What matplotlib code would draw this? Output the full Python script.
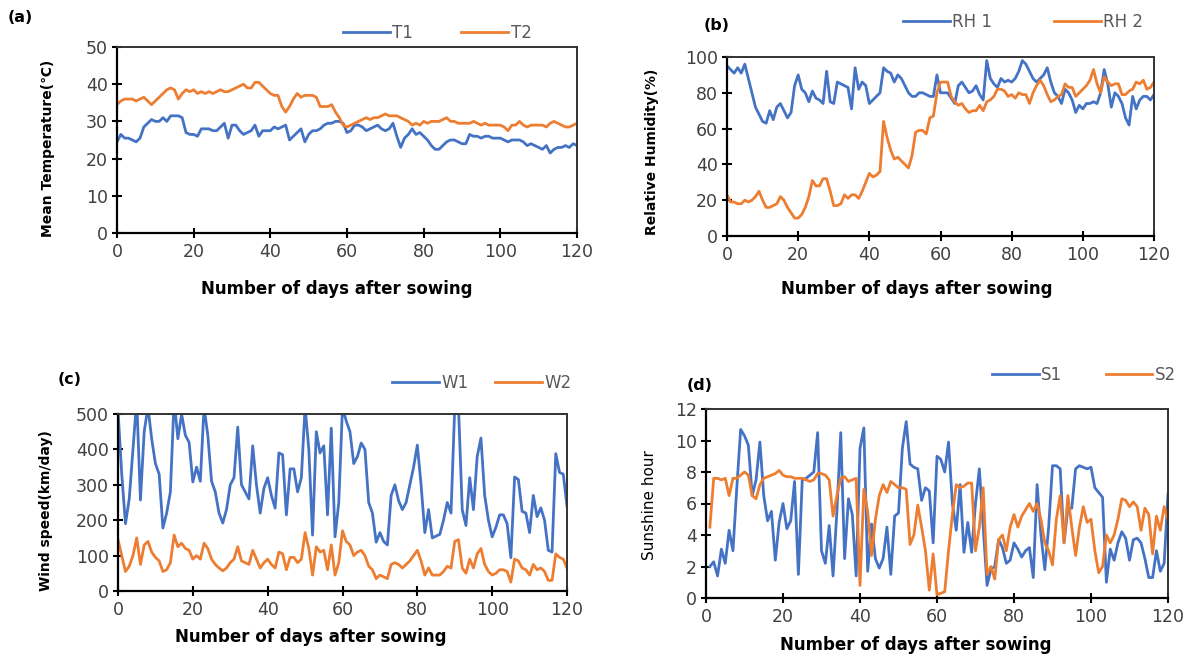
import numpy as np
import matplotlib
matplotlib.use('Agg')
from matplotlib import pyplot as plt

# (a) mean temperature, days 0..120
t1 = [24.5, 26.5, 25.5, 25.5, 25, 24.5, 25.5, 28.5, 29.5, 30.5,
      30, 30, 31, 30, 31.5, 31.5, 31.5, 31, 27, 26.5,
      26.5, 26, 28, 28, 28, 27.5, 27.5, 28.5, 29.5, 25.5,
      29, 29, 27.5, 26.5, 27, 27.5, 29, 26, 27.5, 27.5,
      27.5, 28.5, 28, 28.5, 29, 25, 26, 27, 28, 24.5,
      26.5, 27.5, 27.5, 28, 29, 29.5, 29.5, 30, 30, 29.5,
      27, 27.5, 29, 29, 28.5, 27.5, 28, 28.5, 29, 28,
      27.5, 28, 29.5, 26, 23, 25.5, 26.5, 28, 26.5, 27,
      26, 25, 23.5, 22.5, 22.5, 23.5, 24.5, 25, 25, 24.5,
      24, 24, 26.5, 26, 26, 25.5, 26, 26, 25.5, 25.5,
      25.5, 25, 24.5, 25, 25, 25, 24.5, 23.5, 24, 23.5,
      23, 22.5, 23.5, 21.5, 22.5, 23, 23, 23.5, 23, 24,
      23.5]
t2 = [34.5, 35.5, 36, 36, 36, 35.5, 36, 36.5, 35.5, 34.5,
      35.5, 36.5, 37.5, 38.5, 39, 38.5, 36, 37.5, 38.5, 38,
      38.5, 37.5, 38, 37.5, 38, 37.5, 38, 38.5, 38, 38,
      38.5, 39, 39.5, 40, 39, 39, 40.5, 40.5, 39.5, 38.5,
      37.5, 37, 37, 34, 32.5, 34, 36, 37.5, 36.5, 37,
      37, 37, 36.5, 34, 34, 34, 34.5, 32.5, 31, 29,
      28.5, 29, 29.5, 30, 30.5, 31, 30.5, 31, 31, 31.5,
      32, 31.5, 31.5, 31.5, 31, 30.5, 30, 29, 29.5, 29,
      30, 29.5, 30, 30, 30, 30.5, 31, 30, 30, 29.5,
      29.5, 29.5, 29.5, 30, 29.5, 29, 29.5, 29, 29, 29,
      29, 28.5, 27.5, 29, 29, 30, 29, 28.5, 29, 29,
      29, 29, 28.5, 29.5, 30, 29.5, 29, 28.5, 28.5, 29,
      29.5]

# (b) relative humidity, days 0..120
rh1 = [95, 93, 91, 94, 91, 96, 88, 80, 72, 68,
       64, 63, 70, 65, 72, 74, 70, 66, 69, 84,
       90, 82, 80, 75, 81, 77, 76, 74, 92, 75,
       74, 86, 85, 84, 83, 71, 94, 82, 86, 84,
       74, 76, 78, 80, 94, 92, 91, 86, 90, 88,
       84, 80, 78, 78, 80, 80, 79, 78, 78, 90,
       80, 80, 80, 77, 74, 84, 86, 83, 80, 81,
       84, 79, 76, 98, 88, 85, 83, 88, 86, 87,
       86, 88, 92, 98, 96, 92, 88, 86, 88, 90,
       94, 86, 80, 78, 74, 82, 80, 76, 69, 73,
       71, 74, 74, 75, 74, 80, 93, 85, 72, 80,
       78, 74, 66, 62, 78, 71, 76, 78, 78, 76,
       79]
rh2 = [23, 19, 19, 18, 18, 20, 19, 20, 22, 25,
       20, 16, 16, 17, 18, 22, 20, 16, 13, 10,
       10, 12, 16, 22, 31, 28, 28, 32, 32, 25,
       17, 17, 18, 23, 21, 23, 23, 21, 25, 30,
       35, 33, 34, 36, 64, 55, 48, 43, 44, 42,
       40, 38, 45, 58, 59, 59, 57, 66, 67, 80,
       86, 86, 86, 78, 75, 73, 74, 71, 69, 70,
       70, 73, 70, 75, 76, 78, 82, 82, 81, 78,
       79, 77, 80, 79, 79, 74, 80, 84, 87, 84,
       79, 75, 76, 78, 79, 85, 83, 83, 78, 80,
       82, 84, 87, 93, 85, 80, 89, 86, 84, 85,
       85, 79, 79, 81, 82, 86, 85, 87, 82, 83,
       86]

# (c) wind speed, days 0..120
w1 = [510, 330, 190, 260, 400, 540, 257, 450, 520, 430,
      360, 330, 178, 220, 280, 540, 430, 500, 440, 420,
      308, 350, 310, 520, 440, 310, 280, 220, 192, 230,
      300, 320, 463, 300, 280, 260, 410, 300, 220, 290,
      320, 270, 234, 390, 385, 215, 345, 345, 280, 320,
      520, 400, 158, 450, 390, 410, 215, 460, 153, 250,
      520, 480, 450, 360, 380, 418, 400, 250, 220, 138,
      165, 140, 130, 270, 300, 255, 230, 250, 300, 350,
      412, 300, 165, 230, 150, 155, 160, 200, 250, 220,
      520, 520, 230, 185, 320, 230, 380, 432, 270, 200,
      153, 180, 215, 215, 190, 94, 322, 315, 225, 220,
      165, 270, 210, 235, 200, 115, 110, 388, 335, 330,
      240]
w2 = [145, 100, 55, 70, 100, 150, 75, 130, 140, 110,
      95, 85, 55, 60, 80, 158, 125, 135, 120, 115,
      90, 100, 90, 135, 120, 90, 75, 65, 57, 65,
      80, 90, 125, 85, 80, 75, 115, 90, 65, 80,
      90, 75, 65, 110, 105, 60, 95, 95, 80, 90,
      165, 120, 45, 125, 110, 115, 60, 130, 45, 80,
      170, 140, 130, 100, 110, 115, 100, 70, 60, 35,
      45, 40, 35, 75, 80, 75, 65, 75, 85, 100,
      115, 85, 45, 65, 45, 45, 45, 55, 70, 65,
      140, 145, 65, 50, 90, 65, 105, 120, 75, 55,
      45, 50, 60, 60, 55, 25, 90, 85, 65, 60,
      45, 75, 60, 65, 55, 30, 30, 105, 95, 90,
      65]

# (d) sunshine hours, days 1..120
s1 = [2.0, 2.3, 1.4, 3.1, 2.2, 4.3, 3.0, 7.0, 10.7, 10.3,
      9.7, 6.5, 7.5, 9.9, 6.5, 4.9, 5.5, 2.4, 4.8, 6.0,
      4.4, 4.9, 7.4, 1.5, 7.5, 7.6, 7.8, 8.0, 10.5, 3.0,
      2.2, 4.6, 1.4, 5.5, 10.5, 2.5, 6.3, 5.3, 1.4, 9.5,
      10.8, 1.7, 4.7, 2.5, 1.9, 2.5, 4.5, 1.5, 5.2, 5.4,
      9.5, 11.2, 8.5, 8.3, 8.2, 6.2, 7.0, 6.8, 3.5, 9.0,
      8.8, 8.0, 9.9, 6.0, 4.3, 7.2, 2.9, 4.8, 2.9, 6.0,
      8.2, 4.5, 0.8, 1.8, 2.0, 3.7, 3.2, 2.2, 2.4, 3.5,
      3.1, 2.6, 3.0, 3.2, 1.3, 7.2, 4.0, 1.8, 4.5, 8.4,
      8.4, 8.2, 3.5, 5.7, 5.7, 8.2, 8.4, 8.3, 8.2, 8.3,
      7.0, 6.7, 6.4, 1.0, 3.1, 2.4, 3.5, 4.2, 3.8, 2.4,
      3.7, 3.8, 3.5, 2.5, 1.3, 1.3, 3.0, 1.7, 2.2, 6.6]
s2 = [4.5, 7.6, 7.6, 7.5, 7.6, 6.5, 7.6, 7.6, 7.8, 8.0,
      7.8, 6.5, 6.3, 7.2, 7.6, 7.7, 7.8, 7.9, 8.1, 7.8,
      7.7, 7.7, 7.6, 7.6, 7.6, 7.5, 7.4, 7.5, 7.9, 7.9,
      7.8, 7.5, 5.2, 6.5, 7.6, 7.7, 7.4, 7.5, 7.6, 0.8,
      6.9, 5.5, 2.7, 5.0, 6.5, 7.2, 6.7, 7.4, 7.2, 7.0,
      7.0, 6.9, 3.4, 4.0, 5.9, 4.5, 3.0, 0.5, 2.8, 0.2,
      0.3, 0.4, 3.0, 5.3, 7.2, 7.0, 7.1, 7.3, 7.3, 3.0,
      4.5, 7.0, 1.5, 2.0, 1.2, 3.7, 4.0, 3.0, 4.5, 5.3,
      4.5, 5.2, 5.6, 6.0, 5.5, 6.0, 5.0, 3.5, 3.0, 2.1,
      5.0, 6.5, 3.5, 6.5, 4.5, 2.7, 4.5, 5.8, 4.8, 5.0,
      3.0, 1.6, 2.0, 4.0, 3.5, 4.0, 5.0, 6.3, 6.2, 5.8,
      6.1, 5.8, 4.3, 5.7, 5.3, 2.8, 5.2, 4.3, 5.8, 5.0]

xticks = [0, 20, 40, 60, 80, 100, 120]
BLUE = '#4472C4'
ORANGE = '#ED7D31'
W, H = 1195, 659
FONT = ['DejaVu Sans']

fig = plt.figure(figsize=(W/100, H/100), dpi=100)


def px_axes(x0, y0, x1, y1):
    return fig.add_axes([x0/W, 1-y1/H, (x1-x0)/W, (y1-y0)/H])


def fx(x):
    return x/W


def fy(y):
    return 1-y/H


def panel(box, xs, a, b, names, ylim, yticks, ylabel, ylab_pos, xlab_pos,
          tag, tag_pos, leg_x, leg_y, colspace, ylab_bold=True, ylab_size=10):
    ax = px_axes(*box)
    ax.plot(xs, a, color=BLUE, lw=2.0, label=names[0])
    ax.plot(xs, b, color=ORANGE, lw=2.0, label=names[1])
    ax.set_xlim(0, 120)
    ax.set_ylim(*ylim)
    ax.set_xticks(xticks)
    ax.set_yticks(yticks)
    ax.tick_params(axis='both', direction='inout', length=7, width=1.5,
                   colors='black', labelcolor='#404040', labelsize=12.5)
    ax.tick_params(axis='x', pad=4)
    ax.tick_params(axis='y', pad=3)
    for s in ['left', 'bottom']:
        ax.spines[s].set_linewidth(1.6)
        ax.spines[s].set_color('black')
    for s in ['top', 'right']:
        ax.spines[s].set_linewidth(1.4)
        ax.spines[s].set_color('#333333')
    fig.text(fx(ylab_pos[0]), fy(ylab_pos[1]), ylabel, rotation=90,
             ha='center', va='center', fontsize=ylab_size,
             fontweight='bold' if ylab_bold else 'normal', family=FONT)
    fig.text(fx(xlab_pos[0]), fy(xlab_pos[1]), 'Number of days after sowing',
             ha='center', va='center', fontsize=12, fontweight='bold',
             family=FONT)
    fig.text(fx(tag_pos[0]), fy(tag_pos[1]), tag, ha='left', va='center',
             fontsize=11.5, fontweight='bold', family=FONT)
    ax.legend(loc='center left', bbox_to_anchor=(fx(leg_x), fy(leg_y)),
              bbox_transform=fig.transFigure, ncol=2, frameon=False,
              fontsize=12, handlelength=2.8, handletextpad=0.15,
              columnspacing=colspace, borderpad=0, borderaxespad=0,
              labelcolor='#595959')
    return ax


days = np.arange(len(t1))
panel((117, 47, 577, 233), days, t1, t2, ['T1', 'T2'], (0, 50),
      [0, 10, 20, 30, 40, 50], 'Mean Temperature(\u2103)', (48, 148),
      (337, 289), '(a)', (8, 17), 343, 33, 2.9)

days = np.arange(len(rh1))
panel((727, 57, 1154, 236), days, rh1, rh2, ['RH 1', 'RH 2'], (0, 100),
      [0, 20, 40, 60, 80, 100], 'Relative Humidity(%)', (652, 152),
      (917, 289), '(b)', (704, 25), 903, 22, 3.7)

days = np.arange(len(w1))
panel((118, 414, 567, 591), days, w1, w2, ['W1', 'W2'], (0, 500),
      [0, 100, 200, 300, 400, 500], 'Wind speed(km/day)', (46, 511),
      (311, 637), '(c)', (58, 380), 392, 383, 1.6)

days = np.arange(1, len(s1)+1)
panel((706, 409, 1168, 598), days, s1, s2, ['S1', 'S2'], (0, 12),
      [0, 2, 4, 6, 8, 10, 12], 'Sunshine hour', (650, 505),
      (916, 645), '(d)', (687, 385), 992, 375, 2.6,
      ylab_bold=False, ylab_size=11)

fig.savefig('out.png', dpi=100)
